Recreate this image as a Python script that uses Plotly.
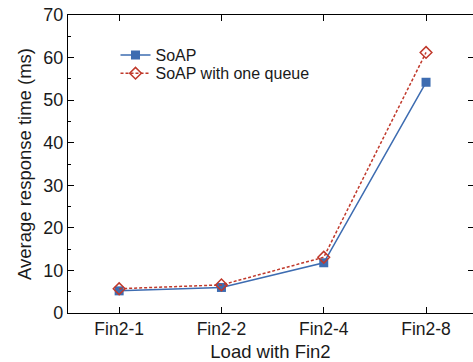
import plotly.graph_objects as go

categories = ["Fin2-1", "Fin2-2", "Fin2-4", "Fin2-8"]
soap = [5.2, 6.0, 11.8, 54.2]
soap_one_queue = [5.7, 6.6, 13.1, 61.2]
y_ticks = [0, 10, 20, 30, 40, 50, 60, 70]

FONT = "Liberation Sans, Arial, sans-serif"
BLUE = "#3d6cb1"
RED = "#c0392b"

fig = go.Figure()
fig.add_trace(go.Scatter(
    x=categories, y=soap, name="SoAP", mode="lines+markers",
    line=dict(color=BLUE, width=1.5),
    marker=dict(symbol="square", size=9, color=BLUE),
    legend="legend",
))
fig.add_trace(go.Scatter(
    x=categories, y=soap_one_queue, name="SoAP with one queue", mode="lines+markers",
    line=dict(color=RED, width=1.5, dash="3px,2px"),
    marker=dict(symbol="diamond-open", size=9, color=RED, line=dict(width=1.5, color=RED)),
    legend="legend2",
))
# empty trace to carry the right-hand mirrored tick axis
fig.add_trace(go.Scatter(x=[], y=[], yaxis="y2", showlegend=False, hoverinfo="skip"))

leg_common = dict(xanchor="left", yanchor="top", bgcolor="rgba(0,0,0,0)",
                  font=dict(size=16, family=FONT, color="#1a1a1a"))

fig.update_layout(
    width=473, height=362,
    margin=dict(l=68, r=0, t=15, b=49),
    paper_bgcolor="white", plot_bgcolor="white",
    font=dict(family=FONT, size=18, color="#1a1a1a"),
    showlegend=True,
    legend=dict(x=0.1173, y=0.9228, **leg_common),
    legend2=dict(x=0.1173, y=0.8614, **leg_common),
    xaxis=dict(
        type="category", range=[-0.5, 3.459],
        showline=True, linecolor="black", linewidth=1.2, mirror="ticks",
        ticks="inside", ticklen=6, tickcolor="black", tickwidth=1.2,
        showgrid=False, zeroline=False,
        title=dict(text="Load with Fin2", font=dict(size=18.5), standoff=8),
        tickfont=dict(size=17.5),
    ),
    yaxis=dict(
        range=[0, 70], tickvals=y_ticks,
        showline=True, linecolor="black", linewidth=1.2, mirror=False,
        ticks="inside", ticklen=6, tickcolor="black", tickwidth=1.2,
        minor=dict(ticks="inside", ticklen=3, dtick=5, tickcolor="black", tickwidth=1),
        showgrid=False, zeroline=False,
        title=dict(text="Average response time (ms)", font=dict(size=18.5), standoff=6),
        tickfont=dict(size=18),
    ),
    yaxis2=dict(
        overlaying="y", side="right", range=[0, 70], tickvals=y_ticks,
        showline=False, ticks="inside", ticklen=5, tickcolor="black", tickwidth=1.2,
        showticklabels=False, showgrid=False, zeroline=False,
    ),
)

fig.write_html("out.html")
